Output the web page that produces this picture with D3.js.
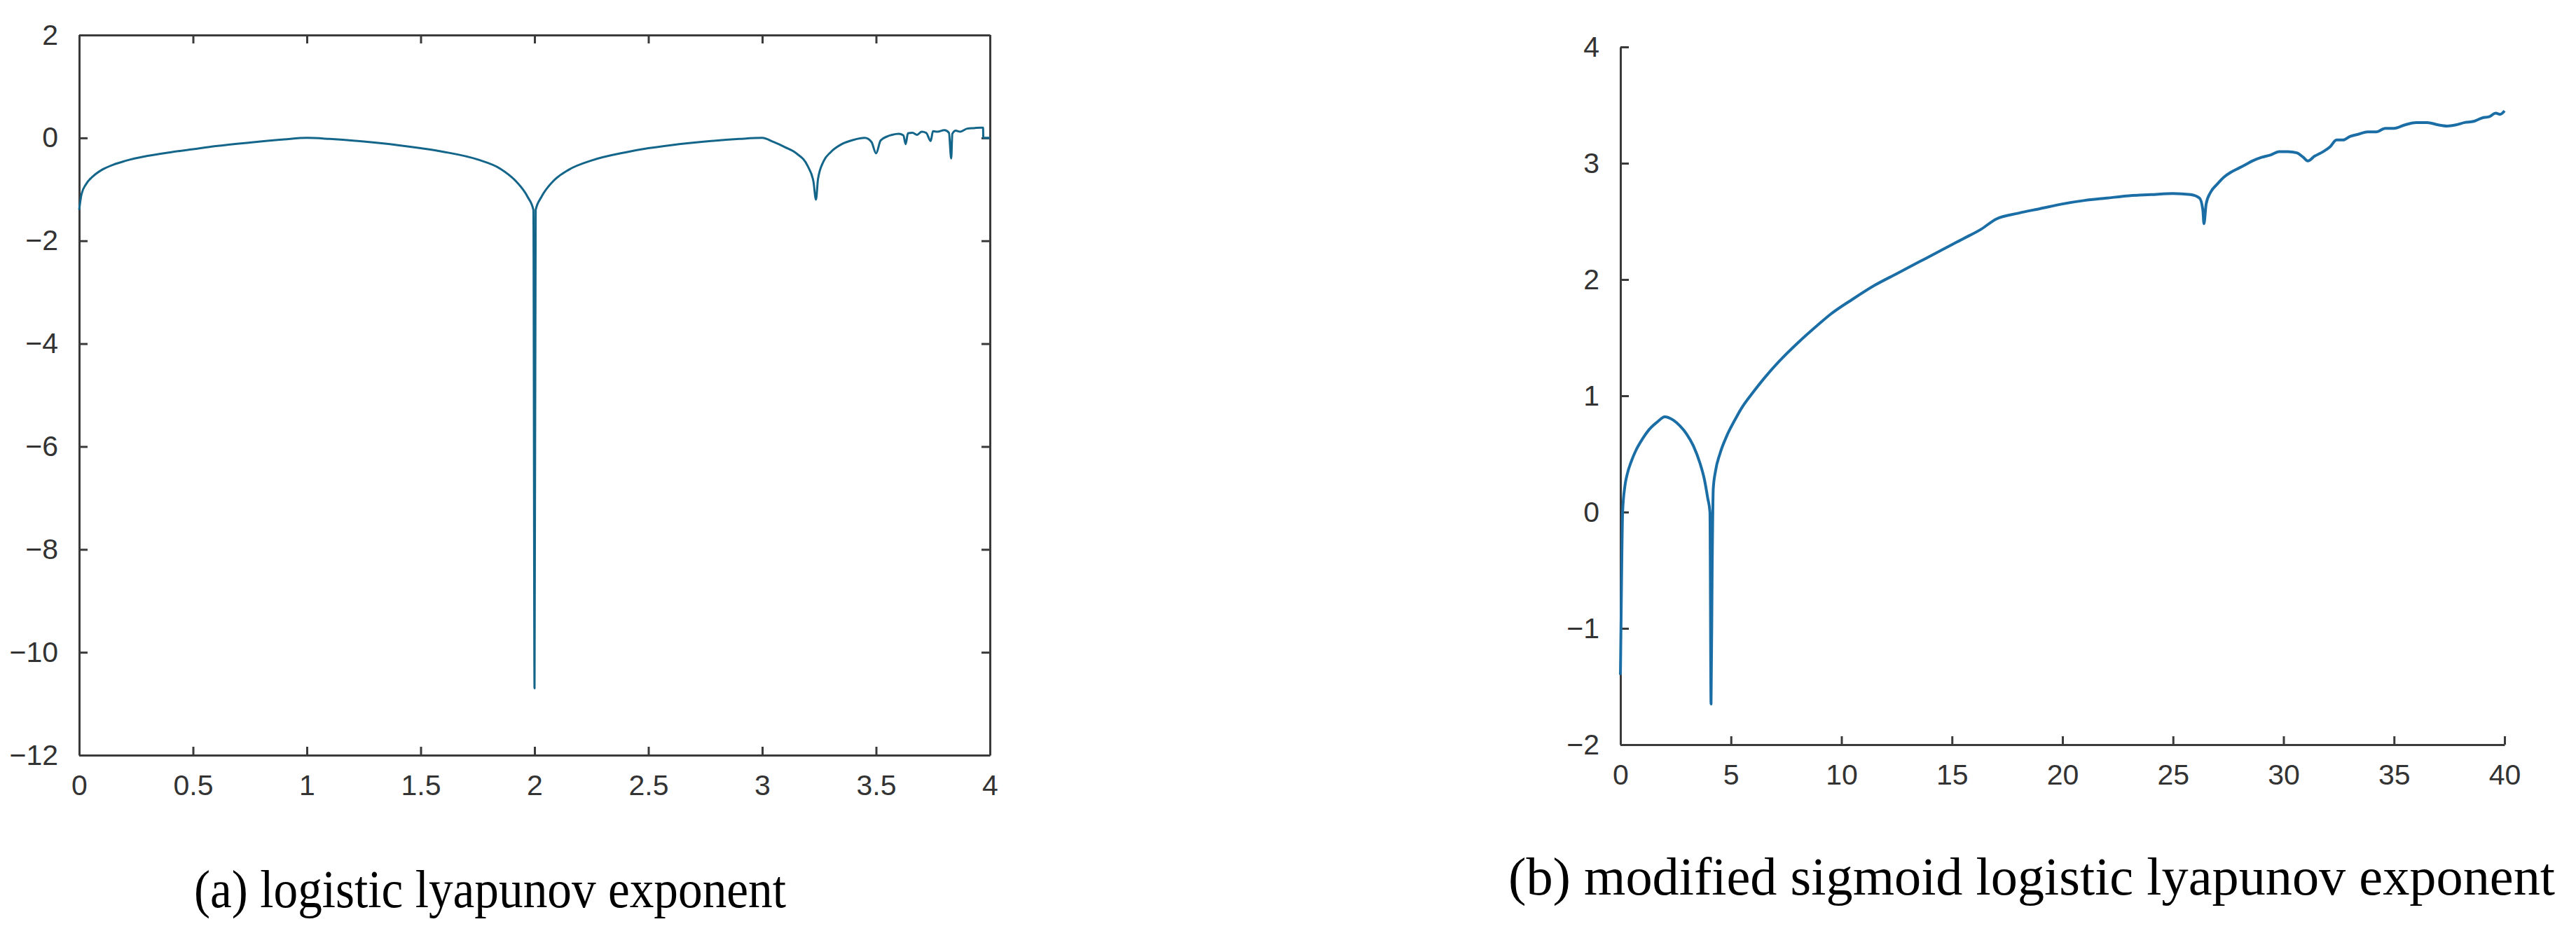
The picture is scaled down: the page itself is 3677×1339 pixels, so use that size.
<!DOCTYPE html>
<html>
<head>
<meta charset="utf-8">
<script src="https://cdn.jsdelivr.net/npm/d3@7"></script>
<style>
  body { margin: 0; background: #fff; }
  .tick text { font-family: "Liberation Sans", Arial, sans-serif; fill: #333; }
</style>
</head>
<body>
<div id="chart"></div>
<script>
// (a) logistic lyapunov exponent
var logisticR = [0, 0.01, 0.03, 0.06, 0.1, 0.15, 0.2, 0.3, 0.4, 0.5, 0.6, 0.75, 0.9, 1.0, 1.1, 1.25, 1.4, 1.5, 1.6, 1.75, 1.85, 1.92, 1.97, 1.995, 2.0, 2.005,
  2.03, 2.08, 2.15, 2.25, 2.4, 2.5, 2.6, 2.75, 2.9, 3.0, 3.05, 3.1, 3.15, 3.2, 3.225, 3.236, 3.245, 3.27, 3.3, 3.35, 3.4, 3.45, 3.48, 3.5, 3.52,
  3.55, 3.57, 3.6, 3.62, 3.63, 3.64, 3.66, 3.68, 3.7, 3.72, 3.74, 3.75, 3.77, 3.8, 3.82, 3.83, 3.835, 3.85, 3.87, 3.9, 3.93, 3.96, 3.97, 3.971, 4.0];
var logisticL = [-1.4, -1.1, -0.9, -0.75, -0.62, -0.52, -0.45, -0.35, -0.28, -0.22, -0.16, -0.09, -0.03, 0, -0.02, -0.07, -0.14, -0.2, -0.27, -0.42, -0.6, -0.85, -1.15, -1.4, -10.7, -1.4,
  -1.15, -0.85, -0.62, -0.44, -0.28, -0.2, -0.14, -0.07, -0.02, 0, -0.08, -0.18, -0.3, -0.55, -0.85, -1.2, -0.8, -0.45, -0.28, -0.12, -0.04, 0, -0.08, -0.3, -0.05,
  0.03, 0.06, 0.08, 0.05, -0.12, 0.09, 0.1, 0.06, 0.12, 0.1, -0.06, 0.13, 0.12, 0.15, 0.1, -0.4, 0.08, 0.14, 0.12, 0.18, 0.19, 0.2, 0.2, 0.0, 0.0];

// (b) modified sigmoid logistic lyapunov exponent
var sigmoidR = [0, 0.05, 0.1, 0.2, 0.3, 0.5, 0.7, 1.0, 1.3, 1.7, 2.0, 2.4, 2.7, 3.0, 3.3, 3.6, 3.8, 3.95, 4.05, 4.1, 4.15, 4.2, 4.3, 4.5, 4.8, 5.2, 5.5,
  6.0, 6.5, 7.2, 8.0, 9.0, 9.5, 10.5, 11.5, 12.5, 13.5, 14.5, 15.5, 16.3, 17.0, 18.0, 19.0, 20.0, 21.0, 22.0, 23.0, 24.0, 25.0, 25.8, 26.2, 26.35, 26.4, 26.5, 26.7,
  27.0, 27.3, 27.6, 28.0, 28.3, 28.6, 29.0, 29.4, 29.8, 30.2, 30.6, 30.9, 31.1, 31.4, 31.8, 32.1, 32.4, 32.7, 33.0, 33.4, 33.8, 34.2, 34.6, 35.0, 35.5, 36.0, 36.5,
  37.0, 37.4, 37.8, 38.2, 38.6, 39.0, 39.3, 39.6, 39.8, 40.0];
var sigmoidL = [-1.4, -0.6, 0.0, 0.22, 0.32, 0.44, 0.53, 0.63, 0.71, 0.78, 0.82, 0.79, 0.74, 0.67, 0.57, 0.42, 0.28, 0.12, 0.0, -1.65, -0.5, 0.2, 0.35, 0.5, 0.65, 0.8, 0.9,
  1.03, 1.15, 1.3, 1.45, 1.62, 1.7, 1.83, 1.95, 2.05, 2.15, 2.25, 2.35, 2.43, 2.52, 2.57, 2.61, 2.65, 2.68, 2.7, 2.72, 2.73, 2.74, 2.73, 2.7, 2.6, 2.48, 2.65, 2.75,
  2.82, 2.88, 2.92, 2.96, 2.99, 3.02, 3.05, 3.07, 3.1, 3.1, 3.09, 3.05, 3.02, 3.06, 3.1, 3.14, 3.2, 3.2, 3.23, 3.25, 3.27, 3.27, 3.3, 3.3, 3.33, 3.35, 3.35,
  3.33, 3.32, 3.33, 3.35, 3.36, 3.39, 3.4, 3.43, 3.42, 3.45];

var xTicksA = [0, 0.5, 1, 1.5, 2, 2.5, 3, 3.5, 4];
var yTicksA = [-12, -10, -8, -6, -4, -2, 0, 2];
var xTicksB = [0, 5, 10, 15, 20, 25, 30, 35, 40];
var yTicksB = [-2, -1, 0, 1, 2, 3, 4];

var width = 3677, height = 1339;
var svg = d3.select("#chart").append("svg")
  .attr("width", width).attr("height", height);

function drawPanel(opt) {
  var xScale = d3.scaleLinear().domain(opt.xDomain).range([opt.left, opt.right]);
  var yScale = d3.scaleLinear().domain(opt.yDomain).range([opt.bottom, opt.top]);

  var fmt = d3.format("");
  var bottomAxis = d3.axisBottom(xScale).tickValues(opt.xTicks).tickFormat(fmt)
    .tickSizeInner(-12).tickSizeOuter(0).tickPadding(28);
  var leftAxis = d3.axisLeft(yScale).tickValues(opt.yTicks).tickFormat(fmt)
    .tickSizeInner(-12).tickSizeOuter(0).tickPadding(30);

  var gx = svg.append("g").attr("transform", `translate(0,${opt.bottom})`).call(bottomAxis);
  var gy = svg.append("g").attr("transform", `translate(${opt.left},0)`).call(leftAxis);
  [gx, gy].forEach(function(g) {
    g.selectAll("path, line").attr("stroke", "#3a3a3a").attr("stroke-width", 3);
    g.selectAll("text").attr("font-size", 41);
  });

  if (opt.box) {
    var topAxis = d3.axisTop(xScale).tickValues(opt.xTicks).tickFormat("")
      .tickSizeInner(-12).tickSizeOuter(0);
    var rightAxis = d3.axisRight(yScale).tickValues(opt.yTicks).tickFormat("")
      .tickSizeInner(-12).tickSizeOuter(0);
    [svg.append("g").attr("transform", `translate(0,${opt.top})`).call(topAxis),
     svg.append("g").attr("transform", `translate(${opt.right},0)`).call(rightAxis)]
      .forEach(function(g) {
        g.selectAll("path, line").attr("stroke", "#3a3a3a").attr("stroke-width", 3);
      });
  }

  var line = d3.line().curve(d3.curveMonotoneX)
    .x(d => xScale(d[0])).y(d => yScale(d[1]));
  svg.append("path")
    .datum(d3.zip(opt.xs, opt.ys))
    .attr("fill", "none")
    .attr("stroke", opt.color)
    .attr("stroke-width", opt.lineWidth)
    .attr("stroke-linejoin", "round")
    .attr("d", line);

  svg.append("text")
    .text(opt.caption)
    .attr("x", opt.capX).attr("y", opt.capY)
    .attr("textLength", opt.capW).attr("lengthAdjust", "spacingAndGlyphs")
    .attr("font-family", "'Liberation Serif', 'Times New Roman', serif")
    .attr("font-size", 76)
    .attr("fill", "#000");
}

drawPanel({
  left: 113, right: 1413, top: 50, bottom: 1078,
  xDomain: [0, 4], yDomain: [-12, 2], xTicks: xTicksA, yTicks: yTicksA,
  xs: logisticR, ys: logisticL, color: "#14658a", lineWidth: 3, box: true,
  caption: "(a) logistic lyapunov exponent", capX: 277, capY: 1295, capW: 845
});

drawPanel({
  left: 2313, right: 3575, top: 67, bottom: 1063,
  xDomain: [0, 40], yDomain: [-2, 4], xTicks: xTicksB, yTicks: yTicksB,
  xs: sigmoidR, ys: sigmoidL, color: "#1b6ea5", lineWidth: 4, box: false,
  caption: "(b) modified sigmoid logistic lyapunov exponent", capX: 2153, capY: 1277, capW: 1494
});
</script>
</body>
</html>
